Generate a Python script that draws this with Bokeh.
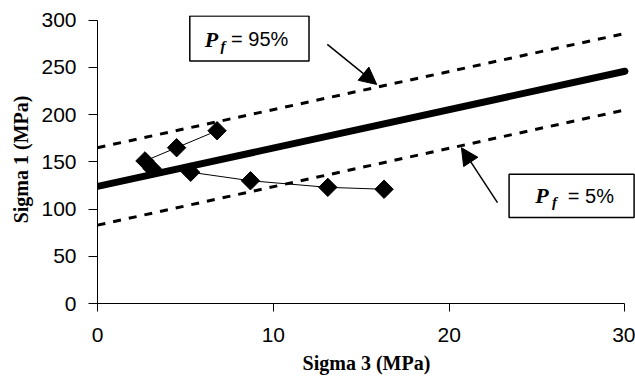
import numpy as np
from bokeh.plotting import figure
from bokeh.models import Arrow, NormalHead, Label, BoxAnnotation, FixedTicker, Range1d
from bokeh.embed import file_html
from bokeh.resources import INLINE

# data
sigma3 = [6.8, 4.5, 2.7, 3.1, 5.3, 8.7, 13.1, 16.3]
sigma1 = [183, 165, 151, 143, 139, 130, 123, 121]
fit_x = [0, 30]
fit_mid = [124, 246]
fit_p95 = [165, 286]
fit_p5 = [83, 205]
x_ticks = [0, 10, 20, 30]
y_ticks = [0, 50, 100, 150, 200, 250, 300]

p = figure(width=635, height=376, output_backend="svg", toolbar_location=None,
           x_range=Range1d(0, 30.6), y_range=Range1d(0, 305),
           min_border_left=97, min_border_right=0, min_border_top=15, min_border_bottom=73)
p.outline_line_color = None
p.xgrid.visible = False
p.ygrid.visible = False

# lines
p.line(fit_x, fit_p95, line_color="black", line_width=3, line_dash="8 8")
p.line(fit_x, fit_p5, line_color="black", line_width=3, line_dash="8 8")
p.line(fit_x, fit_mid, line_color="black", line_width=7, line_cap="round")
p.line(sigma3, sigma1, line_color="black", line_width=1)
p.scatter(sigma3, sigma1, marker="square", angle=np.pi / 4, size=13,
          fill_color="black", line_color="black")

# axes
for ax, ticks, bnd in ((p.xaxis, x_ticks, (0, 30)), (p.yaxis, y_ticks, (0, 300))):
    ax.ticker = FixedTicker(ticks=ticks)
    ax.bounds = bnd
    ax.minor_tick_line_color = None
    ax.major_tick_in = 0
    ax.axis_line_color = "black"
    ax.major_tick_line_color = "black"
    ax.major_label_text_font = "Liberation Sans"
    ax.major_label_text_font_size = "21px"
    ax.major_label_text_color = "black"
    ax.axis_label_text_font = "Liberation Serif"
    ax.axis_label_text_font_style = "bold"
    ax.axis_label_text_font_size = "20px"
    ax.axis_label_text_color = "black"
p.xaxis.major_tick_out = 8
p.yaxis.major_tick_out = 9
p.xaxis.major_label_standoff = 16
p.yaxis.major_label_standoff = 12
p.xaxis.axis_label = "Sigma 3 (MPa)"
p.yaxis.axis_label = "Sigma 1 (MPa)"
p.xaxis.axis_label_standoff = 7
p.yaxis.axis_label_standoff = 6

# annotation boxes
p.add_layout(BoxAnnotation(left=5.25, right=12.03, bottom=256.8, top=304.4,
                           fill_color="white", fill_alpha=1.0,
                           line_color="black", line_width=1.5, line_alpha=1.0))
p.add_layout(BoxAnnotation(left=23.41, right=30.52, bottom=91.0, top=136.9,
                           fill_color="white", fill_alpha=1.0,
                           line_color="black", line_width=1.5, line_alpha=1.0))

def pf_label(xp, xf, xe, yb, yf, rest):
    p.add_layout(Label(x=xp, y=yb, text="P", text_font="Liberation Serif",
                       text_font_style="bold italic", text_font_size="22px",
                       text_baseline="alphabetic", text_align="left", text_color="black"))
    p.add_layout(Label(x=xf, y=yf, text="f", text_font="Liberation Serif",
                       text_font_style="bold italic", text_font_size="15px",
                       text_baseline="alphabetic", text_align="left", text_color="black"))
    p.add_layout(Label(x=xe, y=yb, text=rest, text_font="Liberation Sans",
                       text_font_size="20px", text_baseline="alphabetic",
                       text_align="left", text_color="black"))

pf_label(6.1, 7.0, 7.6, 280.0, 273.0, "= 95%")
pf_label(24.9, 25.85, 26.75, 114.0, 107.0, "= 5%")

# arrows
p.add_layout(Arrow(end=NormalHead(size=17, fill_color="black", line_color="black"),
                   x_start=13.07, y_start=274.5, x_end=15.88, y_end=232.0,
                   line_width=1.5, line_color="black"))
p.add_layout(Arrow(end=NormalHead(size=17, fill_color="black", line_color="black"),
                   x_start=22.75, y_start=106.9, x_end=20.7, y_end=165.0,
                   line_width=1.5, line_color="black"))

open("out.html", "w").write(file_html(p, INLINE))
